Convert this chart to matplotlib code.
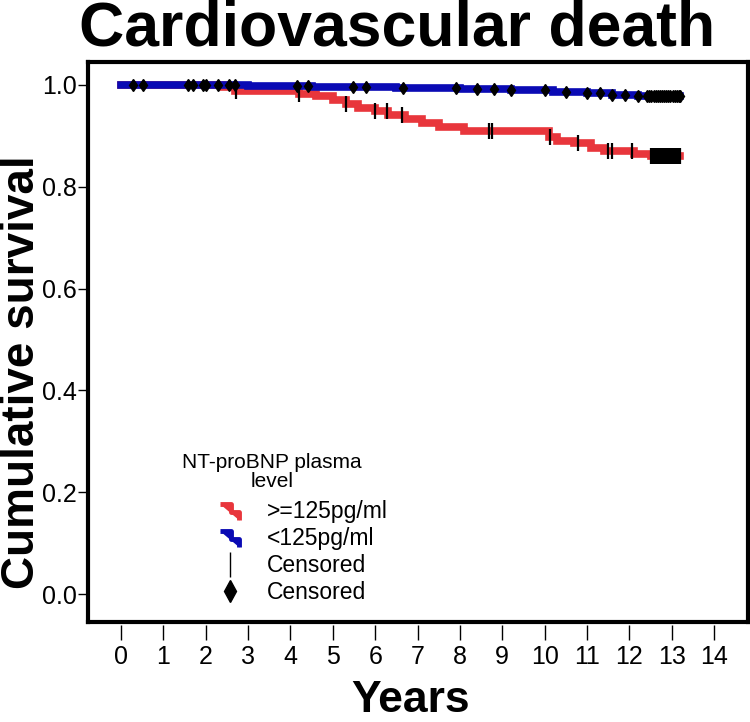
import numpy as np
import matplotlib.pyplot as plt
from matplotlib.lines import Line2D
from matplotlib.path import Path

# Kaplan-Meier steps
t_high = [0.0, 2.4, 2.7, 4.2, 4.6, 5.0, 5.3, 5.6, 6.0, 6.3, 6.7, 7.1, 7.5, 8.1,
          10.1, 10.3, 10.7, 11.1, 11.4, 12.1, 12.5, 13.2]
s_high = [1.0, 0.995, 0.988, 0.982, 0.978, 0.970, 0.962, 0.955, 0.948, 0.940, 0.933,
          0.925, 0.918, 0.910, 0.897, 0.890, 0.886, 0.877, 0.871, 0.864, 0.860, 0.860]

t_low = [0.0, 3.0, 4.5, 6.5, 8.0, 9.2, 10.2, 11.0, 11.6, 12.2, 13.2]
s_low = [1.0, 0.998, 0.996, 0.994, 0.992, 0.990, 0.987, 0.984, 0.981, 0.978, 0.978]

# censored times
cens_high = [2.72, 4.2, 5.3, 6.0, 6.28, 6.63, 8.69, 8.76, 10.13, 10.78, 11.5, 11.6, 12.07,
             12.52, 12.56, 12.6, 12.64, 12.68, 12.72, 12.76, 12.8, 12.84, 12.88, 12.92,
             12.96, 13.0, 13.04, 13.08, 13.12, 13.16, 13.2]
cens_low = [0.28, 0.52, 1.58, 1.70, 1.94, 2.0, 2.29, 2.55, 2.69, 4.15, 4.41, 5.48, 5.78,
            6.66, 7.9, 8.4, 8.8, 9.2, 10.0, 10.5, 11.0, 11.3, 11.6, 11.9, 12.2,
            12.42, 12.47, 12.52, 12.57, 12.62, 12.67, 12.72, 12.77, 12.82, 12.87,
            12.92, 12.97, 13.02, 13.07, 13.12, 13.17, 13.2]

x_ticks = list(range(0, 15))
y_ticks = [0.0, 0.2, 0.4, 0.6, 0.8, 1.0]

red = '#e8363c'
blue = '#0a0ab4'

plt.rcParams['font.family'] = ['Liberation Sans', 'DejaVu Sans']

def surv_at(t, times, surv):
    i = np.searchsorted(times, t, side='right') - 1
    return np.array(surv)[i]

fig = plt.figure(figsize=(7.5, 7.22), dpi=100)
ax = fig.add_axes([0.1173, 0.1385, 0.88, 0.7756])

ax.step(t_high, s_high, where='post', color=red, lw=5.5, solid_joinstyle='miter')
ax.step(t_low, s_low, where='post', color=blue, lw=5.5, solid_joinstyle='miter')
ax.plot(cens_high, surv_at(cens_high, t_high, s_high), ls='none', marker='|',
        color='black', ms=11, mew=1.6)
ax.plot(cens_low, surv_at(cens_low, t_low, s_low), ls='none', marker='d',
        color='black', ms=6)

ax.set_xlim(-0.78, 14.8)
ax.set_ylim(-0.055, 1.045)
for sp in ax.spines.values():
    sp.set_linewidth(3)

ax.set_yticks(y_ticks)
ax.set_yticklabels(['%.1f' % v for v in y_ticks])
ax.tick_params(axis='y', direction='out', length=7, width=1, labelsize=18, pad=1)
ax.set_xticks([])

sec = ax.secondary_xaxis(-0.006)
sec.set_xticks(x_ticks)
sec.spines['bottom'].set_visible(False)
sec.tick_params(direction='out', length=11, width=1, labelsize=18, pad=3)

fig.text(0.03, 0.485, 'Cumulative survival', fontsize=33, fontweight='bold',
         rotation=90, ha='center', va='center')
fig.text(0.547, 0.03, 'Years', fontsize=32, fontweight='bold',
         ha='center', va='center')
fig.text(0.53, 1 - 46 / 722, 'Cardiovascular death', fontsize=45, fontweight='bold',
         ha='center', va='baseline')

# legend (title placed as its own text, centred like the original)
fig.text(272 / 750, 1 - 472 / 722, 'NT-proBNP plasma\nlevel', fontsize=15,
         ha='center', va='center', multialignment='center', linespacing=1.05)
step_path = Path([(-1, 0.6), (0.1, 0.6), (0.1, -0.2), (0.9, -0.2), (0.9, -1.0)])
handles = [
    Line2D([], [], ls='none', marker=step_path, color=red, ms=14, mew=3.5),
    Line2D([], [], ls='none', marker=step_path, color=blue, ms=14, mew=3.5),
    Line2D([], [], ls='none', marker='|', color='black', ms=18, mew=1),
    Line2D([], [], ls='none', marker='d', color='black', ms=11),
]
labels = ['>=125pg/ml', '<125pg/ml', 'Censored', 'Censored']
leg = ax.legend(handles, labels, frameon=False, loc='upper left',
                bbox_to_anchor=(0.249, 1 - 479 / 722), bbox_transform=fig.transFigure,
                fontsize=16.5, handletextpad=0.6, labelspacing=0.18)

fig.savefig('out.png', dpi=100)
